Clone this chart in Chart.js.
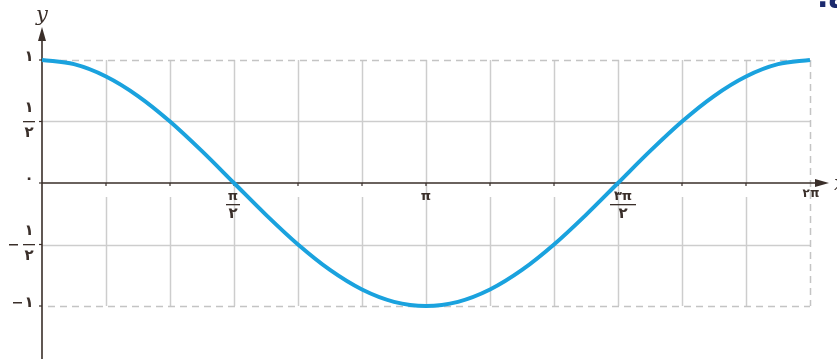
<!DOCTYPE html>
<html>
<head>
<meta charset="utf-8">
<script src="https://cdn.jsdelivr.net/npm/chart.js@4"></script>
<style>
  html, body { margin: 0; padding: 0; background: #fff; }
  canvas { display: block; }
</style>
</head>
<body>
<canvas id="cosChart" width="837" height="359"></canvas>
<script>
// angle in degrees, read every 15 degrees off the curve
const angles = [0, 15, 30, 45, 60, 75, 90, 105, 120, 135, 150, 165, 180,
                195, 210, 225, 240, 255, 270, 285, 300, 315, 330, 345, 360];
const cosValues = [1, 0.966, 0.866, 0.707, 0.5, 0.259, 0, -0.259, -0.5, -0.707, -0.866, -0.966, -1,
                   -0.966, -0.866, -0.707, -0.5, -0.259, 0, 0.259, 0.5, 0.707, 0.866, 0.966, 1];

// grid
const gridX = [30, 60, 90, 120, 150, 180, 210, 240, 270, 300, 330];
const gridY = [0.5, -0.5];

// x tick labels (persian)
const xTickValues = [90, 180, 270, 360];
const xTickNums = ['π', 'π', '۳π', '۲π'];
const xTickDens = ['۲', '', '۲', ''];

// y tick labels
const yTickValues = [1, 0.5, 0, -0.5, -1];
const yTickSigns = ['', '', '', '−', '−'];
const yTickNums = ['۱', '۱', '۰', '۱', '۱'];
const yTickDens = ['', '۲', '', '۲', ''];

const axisColor = '#3a2f2a';
const gridColor = '#cdcdcd';
const curveColor = '#1aa2de';

const axesPlugin = {
  id: 'axesPlugin',
  beforeDatasetsDraw(chart) {
    const ctx = chart.ctx;
    const xs = chart.scales.x, ys = chart.scales.y;
    const x0 = xs.getPixelForValue(0), x1 = xs.getPixelForValue(360);
    const yTop = ys.getPixelForValue(1), yBot = ys.getPixelForValue(-1), y0 = ys.getPixelForValue(0);
    ctx.save();

    // solid grid lines
    ctx.strokeStyle = gridColor;
    ctx.lineWidth = 1.5;
    gridX.forEach(v => {
      const px = Math.round(xs.getPixelForValue(v)) + 0.5;
      ctx.beginPath();
      ctx.moveTo(px, yTop);
      if (xTickValues.includes(v)) {
        ctx.lineTo(px, yBot);
      } else {
        ctx.lineTo(px, y0);
        ctx.moveTo(px, y0 + 14);
        ctx.lineTo(px, yBot);
      }
      ctx.stroke();
    });
    gridY.forEach(v => {
      const py = Math.round(ys.getPixelForValue(v)) + 0.5;
      ctx.beginPath();
      ctx.moveTo(x0, py);
      ctx.lineTo(x1, py);
      ctx.stroke();
    });

    // dashed border lines
    ctx.strokeStyle = '#c4c4c4';
    ctx.setLineDash([7, 5]);
    [1, -1].forEach(v => {
      const py = Math.round(ys.getPixelForValue(v)) + 0.5;
      ctx.beginPath();
      ctx.moveTo(x0 + 6, py);
      ctx.lineTo(x1, py);
      ctx.stroke();
    });
    ctx.beginPath();
    ctx.moveTo(Math.round(x1) + 0.5, yTop);
    ctx.lineTo(Math.round(x1) + 0.5, yBot);
    ctx.stroke();
    ctx.setLineDash([]);

    // axes
    ctx.strokeStyle = axisColor;
    ctx.fillStyle = axisColor;
    ctx.lineWidth = 1.6;
    ctx.beginPath();
    ctx.moveTo(x0, chart.height);
    ctx.lineTo(x0, 36);
    ctx.moveTo(x0, y0);
    ctx.lineTo(x1 + 10, y0);
    ctx.stroke();
    // arrow heads
    ctx.beginPath();
    ctx.moveTo(x0, 27);
    ctx.lineTo(x0 - 4, 41);
    ctx.lineTo(x0 + 4, 41);
    ctx.closePath();
    ctx.fill();
    ctx.beginPath();
    ctx.moveTo(x1 + 19, y0);
    ctx.lineTo(x1 + 5, y0 - 4);
    ctx.lineTo(x1 + 5, y0 + 4);
    ctx.closePath();
    ctx.fill();

    // small ticks
    ctx.lineWidth = 1.2;
    gridX.forEach(v => {
      const px = xs.getPixelForValue(v);
      ctx.beginPath();
      ctx.moveTo(px, y0);
      ctx.lineTo(px, y0 + 3);
      ctx.stroke();
    });
    yTickValues.forEach(v => {
      const py = ys.getPixelForValue(v);
      ctx.beginPath();
      ctx.moveTo(x0 - 3, py);
      ctx.lineTo(x0, py);
      ctx.stroke();
    });

    // axis names
    ctx.font = 'italic 21px "DejaVu Serif"';
    ctx.textAlign = 'center';
    ctx.textBaseline = 'middle';
    ctx.fillText('y', x0, 16);
    ctx.textAlign = 'left';
    ctx.fillText('x', x1 + 24, y0 + 2);

    // x tick labels
    ctx.textAlign = 'center';
    xTickValues.forEach((v, i) => {
      const px = xs.getPixelForValue(v);
      if (xTickDens[i]) {
        const cx = px + (xTickNums[i].length > 1 ? 5 : -1);
        const halfW = xTickNums[i].length > 1 ? 13 : 7;
        ctx.font = 'bold 13px "DejaVu Sans"';
        ctx.fillText(xTickNums[i], cx, y0 + 14);
        ctx.fillRect(cx - halfW, y0 + 21, halfW * 2, 1.3);
        ctx.font = 'bold 15px "DejaVu Sans"';
        ctx.fillText(xTickDens[i], cx, y0 + 31);
      } else if (v === 360) {
        ctx.font = 'bold 12px "DejaVu Sans"';
        ctx.fillText(xTickNums[i], px + 1, y0 + 11);
      } else {
        ctx.font = 'bold 13px "DejaVu Sans"';
        ctx.fillText(xTickNums[i], px, y0 + 14);
      }
    });

    // y tick labels
    yTickValues.forEach((v, i) => {
      const py = ys.getPixelForValue(v);
      const cx = 29;
      ctx.font = 'bold 15px "DejaVu Sans"';
      if (yTickDens[i]) {
        ctx.fillText(yTickNums[i], cx, py - 13);
        ctx.fillRect(cx - 6, py - 0.5, 12, 1.3);
        ctx.fillText(yTickDens[i], cx, py + 12);
        if (yTickSigns[i]) ctx.fillRect(9, py - 0.5, 9, 1.5);
      } else if (v === 0) {
        ctx.fillText(yTickNums[i], cx, py - 4);
      } else {
        ctx.fillText(yTickNums[i], cx, py - 3);
        if (yTickSigns[i]) ctx.fillRect(13, py - 4, 9, 1.5);
      }
    });

    // cut heading at top right
    ctx.fillStyle = '#1c2a6e';
    ctx.font = 'bold 30px "DejaVu Sans"';
    ctx.textAlign = 'right';
    ctx.textBaseline = 'alphabetic';
    ctx.fillText('.ه', 846, 7);

    ctx.restore();
  }
};

new Chart(document.getElementById('cosChart'), {
  type: 'line',
  data: {
    datasets: [{
      data: angles.map((a, i) => ({ x: a, y: cosValues[i] })),
      borderColor: curveColor,
      borderWidth: 4,
      pointRadius: 0,
      cubicInterpolationMode: 'monotone',
      fill: false
    }]
  },
  options: {
    responsive: false,
    animation: false,
    devicePixelRatio: 1,
    layout: { padding: 0 },
    plugins: { legend: { display: false }, tooltip: { enabled: false } },
    scales: {
      x: { type: 'linear', min: -19.6875, max: 372.65625, display: false },
      y: { type: 'linear', min: -1.43089, max: 1.48780, display: false }
    }
  },
  plugins: [axesPlugin]
});
</script>
</body>
</html>
